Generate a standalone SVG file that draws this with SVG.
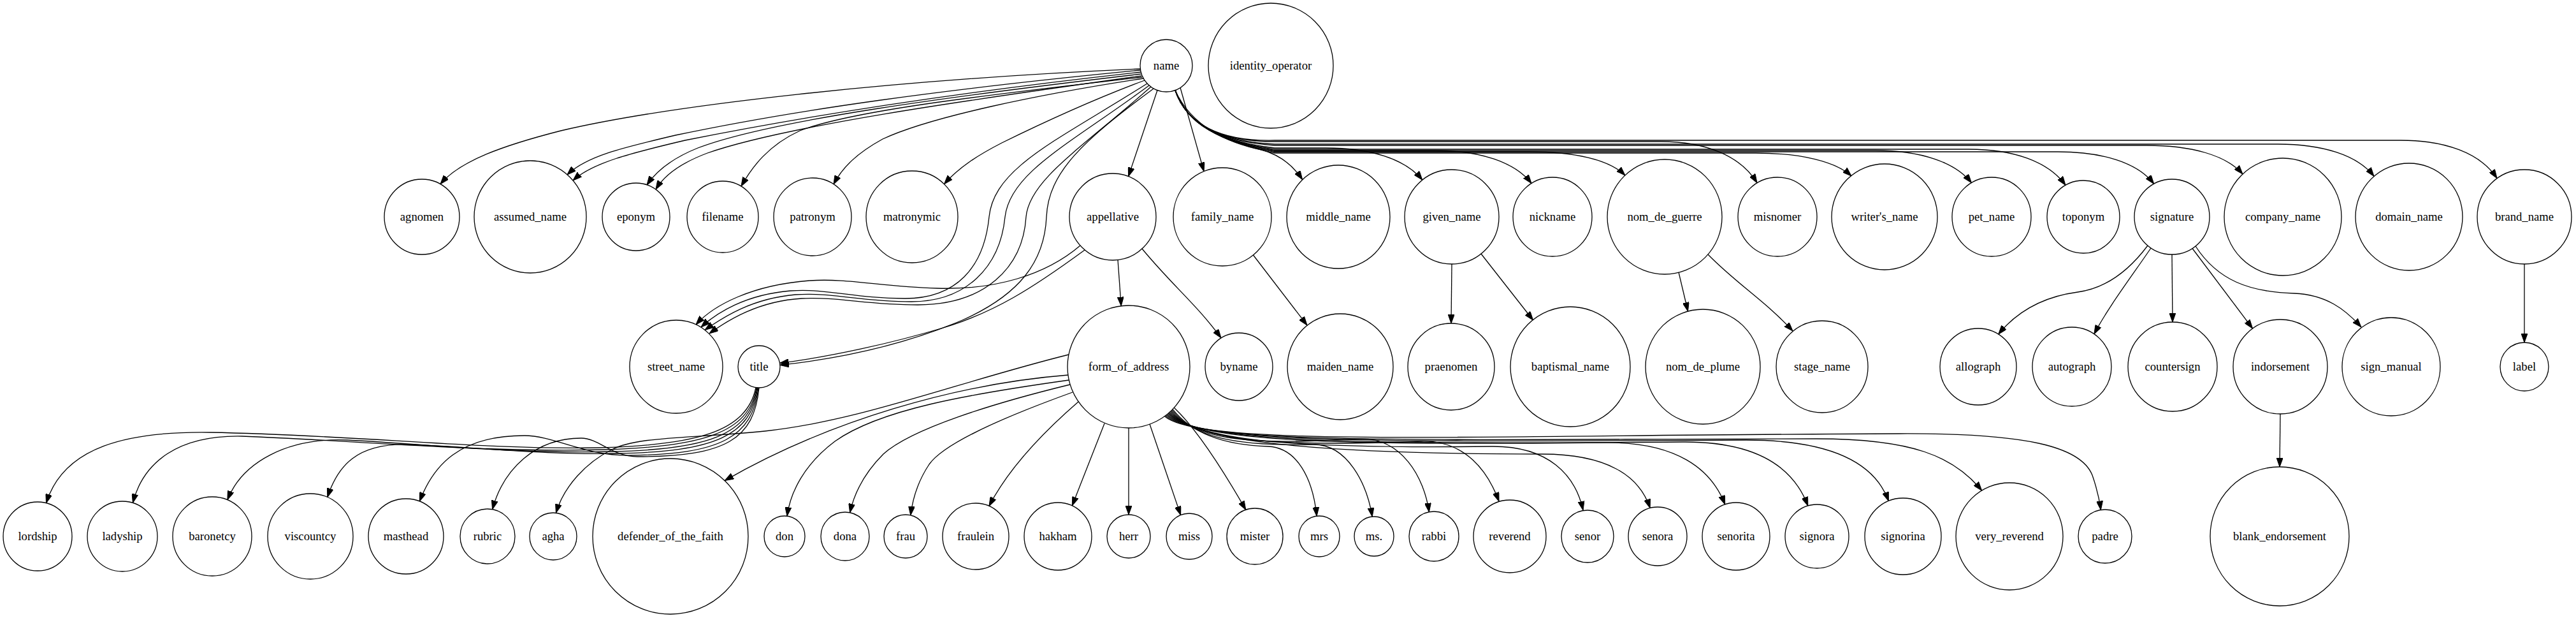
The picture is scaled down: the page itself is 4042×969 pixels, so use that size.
<svg xmlns="http://www.w3.org/2000/svg" width="4042" height="969" viewBox="0 0 4042 969">
<style>
.n circle{fill:none;stroke:#000;stroke-width:1.3}
.n text{font-family:"Liberation Serif","Times New Roman",serif;font-size:18.67px;text-anchor:middle;fill:#000}
#edges path{fill:none;stroke:#000;stroke-width:1.3;marker-end:url(#ah)}
</style>
<defs>
<marker id="ah" markerUnits="userSpaceOnUse" markerWidth="14" markerHeight="10" refX="14" refY="5" orient="auto" viewBox="0 0 14 10">
<path d="M0,0 L14,5 L0,10 z" fill="#000" stroke="#000" stroke-width="1"/>
</marker>
</defs>
<rect width="4042" height="969" fill="#fff"/>
<g id="edges">
<path d="M1789.5,108 C1400,125 1050,165 880,205 C790,228 722,252 691,288.5"/>
<path d="M1789.5,110 C1480,140 1250,172 1060,212 C975,232 920,245 890,274"/>
<path d="M1790,113 C1490,146 1265,182 1075,220 C990,240 930,255 899,283"/>
<path d="M1790.5,116 C1500,150 1210,188 1095,232 C1055,248 1030,268 1015,290"/>
<path d="M1791,119 C1510,158 1230,198 1110,240 C1070,255 1042,275 1029,297"/>
<path d="M1792,121 C1560,148 1340,172 1255,205 C1205,228 1180,262 1163,292"/>
<path d="M1794,123 C1630,148 1460,183 1385,218 C1345,240 1322,262 1308,289"/>
<path d="M1796,126 C1710,158 1625,198 1572,224 C1535,243 1505,262 1481.5,288.6"/>
<path d="M1816,141.5 L1770.6,276.6"/>
<path d="M1852,137.5 L1889,268.6"/>
<path d="M1800,131 C1660,220 1560,262 1552,340 C1544,420 1500,468 1420,468 C1340,468 1300,452 1240,456 C1170,462 1125,490 1100,513"/>
<path d="M1803,134 C1680,225 1585,270 1577,340 C1569,420 1515,473 1430,473 C1350,473 1305,458 1248,462 C1180,468 1135,497 1106,517.5"/>
<path d="M1806,136 C1700,230 1615,282 1610,340 C1605,420 1545,478 1440,478 C1360,478 1315,465 1258,468 C1190,472 1142,502 1113,523"/>
<path d="M1810,139 C1700,220 1645,270 1642,340 C1639,410 1600,462 1510,502 C1420,540 1320,562 1224,572.4"/>
<path d="M1695,385 C1640,432 1560,455 1470,452 C1380,449 1330,436 1270,440 C1180,447 1120,478 1092,509"/>
<path d="M1702,392 C1620,452 1560,490 1480,514 C1400,538 1300,560 1223.5,569.4"/>
<path d="M1754,407.5 L1759.2,479.7"/>
<path d="M1792,390 C1840,448 1878,478 1916,529.9"/>
<path d="M1966.5,400 L2051,510"/>
<path d="M2278,414 L2277,507"/>
<path d="M2324,398 L2405.6,502"/>
<path d="M2634,427 L2648.5,488"/>
<path d="M2680,399 C2725,445 2770,472 2813,519"/>
<path d="M3370,385 C3340,425 3305,452 3260,458 C3200,466 3162,492 3135.7,524"/>
<path d="M3375,389 C3340,440 3308,482 3285.9,523.7"/>
<path d="M3408,399 L3409,505"/>
<path d="M3440,389.5 L3534.5,515"/>
<path d="M3445,386 C3480,440 3530,458 3600,460 C3650,462 3680,485 3705,513"/>
<path d="M3961,414 L3961,537"/>
<path d="M3578,649 L3577,732"/>
<path d="M1844,141.5 C1870,200 1930,225 1980,235 C2005,242 2028,258 2043.6,281.6"/>
<path d="M1844,141.5 C1862,195 1915,222 2000,232 L2080,232 C2150,232 2205,249 2231.8,282.2"/>
<path d="M1844,141.5 C1862,195 1915,222 2000,236 L2252,236 C2322,236 2377,254 2403,287.5"/>
<path d="M1844,141.5 C1862,195 1915,222 2000,238 L2400,238 C2470,238 2525,250 2549.9,275"/>
<path d="M1844,141.5 C1862,195 1915,222 2000,222 L2606,222 C2676,222 2731,244 2757,286.7"/>
<path d="M1844,141.5 C1862,195 1915,222 2000,240 L2755,240 C2825,240 2880,253 2905,276"/>
<path d="M1844,141.5 C1862,195 1915,222 2000,236 L2943,236 C3013,236 3068,254 3093.4,286.7"/>
<path d="M1844,141.5 C1862,195 1915,222 2000,234 L3089,234 C3159,234 3214,253 3241,290.4"/>
<path d="M1844,141.5 C1862,195 1915,222 2000,238 L3229,238 C3299,238 3354,255 3379.7,288.2"/>
<path d="M1844,141.5 C1862,195 1915,222 2000,228 L3368,228 C3438,228 3493,243 3519,273"/>
<path d="M1844,141.5 C1862,195 1915,222 2000,226 L3574,226 C3644,226 3699,243 3725,276.4"/>
<path d="M1844,141.5 C1862,195 1915,222 2000,220 L3767,220 C3837,220 3892,240 3918,279.6"/>
<path d="M1771,671 L1771,807"/>
<path d="M1804,665 L1852.6,807.6"/>
<path d="M1842.3,639.2 C1875,670 1915,730 1954.8,799.4"/>
<path d="M1840,641.7 C1870,680 1920,698 1990,700 C2035,702 2060,750 2066.1,809.2"/>
<path d="M1838.9,642.9 C1870,683 1930,700 2060,697 C2115,696 2145,760 2153.2,810.1"/>
<path d="M1837.7,644.1 C1870,686 1950,700 2130,688 C2200,684 2235,750 2242.4,802.8"/>
<path d="M1836.5,645.2 C1872,688 1980,702 2230,692 C2300,690 2335,740 2352,786"/>
<path d="M1835.2,646.3 C1874,690 2020,704 2340,700 C2430,699 2472,745 2484,800"/>
<path d="M1834,647.5 C1876,692 2060,712 2420,712 C2520,712 2572,745 2589.1,796.6"/>
<path d="M1832.7,648.5 C1878,694 2100,698 2520,694 C2630,693 2685,735 2706.7,790.9"/>
<path d="M1831.4,649.6 C1880,696 2150,696 2640,693 C2760,692 2815,735 2836.8,793"/>
<path d="M1830.1,650.6 C1882,698 2200,692 2740,690 C2890,690 2945,735 2963.4,785.5"/>
<path d="M1828.8,651.7 C1884,700 2250,688 2850,688 C3000,688 3065,715 3109.6,769"/>
<path d="M1827.4,652.7 C1886,702 2300,682 2980,680 C3180,679 3265,700 3283,745 C3290,765 3294,782 3296.4,799.6"/>
<path d="M1733,664 L1682.3,792.9"/>
<path d="M1692,630 C1640,675 1585,730 1552,793.4"/>
<path d="M1683,615 C1600,645 1485,690 1458,728 C1440,755 1432,782 1428.8,807.9"/>
<path d="M1679,603 C1560,632 1430,672 1386,712 C1356,742 1340,775 1333.6,803.8"/>
<path d="M1677,596 C1520,618 1380,642 1310,692 C1262,728 1240,772 1235,809.2"/>
<path d="M1676,588 C1500,602 1300,660 1137.2,753.6"/>
<path d="M1677,556 C1500,600 1350,660 1200,676 C1080,688 1000,684 960,705 C920,725 885,762 872.4,804.2"/>
<path d="M1186,607.5 C1172,678 1090,698 940,702 C760,706 560,682 330,678 C200,676 100,700 72.5,788.7"/>
<path d="M1187,608 C1175,680 1100,700 950,705 C750,710 550,690 380,684 C280,682 225,724 208.4,788.4"/>
<path d="M1188,608 C1177,682 1110,705 960,708 C800,712 650,695 545,690 C450,686 380,725 356.9,783.7"/>
<path d="M1189,608 C1179,684 1120,708 970,711 C850,714 740,700 640,697 C560,695 530,730 513.8,779.5"/>
<path d="M1190,608 C1181,686 1130,712 990,714 C920,716 870,683 823,683 C720,683 680,730 658.3,786"/>
<path d="M1191,608 C1183,688 1140,716 1000,716 C960,716 940,687 912,687 C840,687 790,735 772.6,798.7"/>
</g>
<g id="node-name" class="n"><circle cx="1830" cy="103" r="41"/><text x="1830" y="109">name</text></g>
<g id="node-identity_operator" class="n"><circle cx="1994" cy="103" r="98"/><text x="1994" y="109">identity_operator</text></g>
<g id="node-agnomen" class="n"><circle cx="662" cy="340" r="59"/><text x="662" y="346">agnomen</text></g>
<g id="node-assumed_name" class="n"><circle cx="832" cy="340" r="88"/><text x="832" y="346">assumed_name</text></g>
<g id="node-eponym" class="n"><circle cx="998" cy="340" r="53"/><text x="998" y="346">eponym</text></g>
<g id="node-filename" class="n"><circle cx="1134" cy="340" r="56"/><text x="1134" y="346">filename</text></g>
<g id="node-patronym" class="n"><circle cx="1275" cy="340" r="61"/><text x="1275" y="346">patronym</text></g>
<g id="node-matronymic" class="n"><circle cx="1431" cy="340" r="72"/><text x="1431" y="346">matronymic</text></g>
<g id="node-appellative" class="n"><circle cx="1746" cy="340" r="68"/><text x="1746" y="346">appellative</text></g>
<g id="node-family_name" class="n"><circle cx="1918" cy="340" r="77"/><text x="1918" y="346">family_name</text></g>
<g id="node-middle_name" class="n"><circle cx="2100" cy="340" r="81"/><text x="2100" y="346">middle_name</text></g>
<g id="node-given_name" class="n"><circle cx="2278" cy="340" r="74"/><text x="2278" y="346">given_name</text></g>
<g id="node-nickname" class="n"><circle cx="2436" cy="340" r="62"/><text x="2436" y="346">nickname</text></g>
<g id="node-nom_de_guerre" class="n"><circle cx="2612" cy="340" r="90"/><text x="2612" y="346">nom_de_guerre</text></g>
<g id="node-misnomer" class="n"><circle cx="2789" cy="340" r="62"/><text x="2789" y="346">misnomer</text></g>
<g id="node-writers_name" class="n"><circle cx="2957" cy="340" r="83"/><text x="2957" y="346">writer's_name</text></g>
<g id="node-pet_name" class="n"><circle cx="3125" cy="340" r="62"/><text x="3125" y="346">pet_name</text></g>
<g id="node-toponym" class="n"><circle cx="3269" cy="340" r="57"/><text x="3269" y="346">toponym</text></g>
<g id="node-signature" class="n"><circle cx="3408" cy="340" r="59"/><text x="3408" y="346">signature</text></g>
<g id="node-company_name" class="n"><circle cx="3582" cy="340" r="92"/><text x="3582" y="346">company_name</text></g>
<g id="node-domain_name" class="n"><circle cx="3780" cy="340" r="84"/><text x="3780" y="346">domain_name</text></g>
<g id="node-brand_name" class="n"><circle cx="3961" cy="340" r="74"/><text x="3961" y="346">brand_name</text></g>
<g id="node-street_name" class="n"><circle cx="1061" cy="575" r="73"/><text x="1061" y="581">street_name</text></g>
<g id="node-title" class="n"><circle cx="1191" cy="575" r="33"/><text x="1191" y="581">title</text></g>
<g id="node-form_of_address" class="n"><circle cx="1771" cy="575" r="96"/><text x="1771" y="581">form_of_address</text></g>
<g id="node-byname" class="n"><circle cx="1944" cy="575" r="53"/><text x="1944" y="581">byname</text></g>
<g id="node-maiden_name" class="n"><circle cx="2103" cy="575" r="83"/><text x="2103" y="581">maiden_name</text></g>
<g id="node-praenomen" class="n"><circle cx="2277" cy="575" r="68"/><text x="2277" y="581">praenomen</text></g>
<g id="node-baptismal_name" class="n"><circle cx="2464" cy="575" r="94"/><text x="2464" y="581">baptismal_name</text></g>
<g id="node-nom_de_plume" class="n"><circle cx="2672" cy="575" r="90"/><text x="2672" y="581">nom_de_plume</text></g>
<g id="node-stage_name" class="n"><circle cx="2859" cy="575" r="72"/><text x="2859" y="581">stage_name</text></g>
<g id="node-allograph" class="n"><circle cx="3104" cy="575" r="60"/><text x="3104" y="581">allograph</text></g>
<g id="node-autograph" class="n"><circle cx="3251" cy="575" r="62"/><text x="3251" y="581">autograph</text></g>
<g id="node-countersign" class="n"><circle cx="3409" cy="575" r="70"/><text x="3409" y="581">countersign</text></g>
<g id="node-indorsement" class="n"><circle cx="3578" cy="575" r="74"/><text x="3578" y="581">indorsement</text></g>
<g id="node-sign_manual" class="n"><circle cx="3752" cy="575" r="77"/><text x="3752" y="581">sign_manual</text></g>
<g id="node-label" class="n"><circle cx="3961" cy="575" r="38"/><text x="3961" y="581">label</text></g>
<g id="node-lordship" class="n"><circle cx="59" cy="841" r="54"/><text x="59" y="847">lordship</text></g>
<g id="node-ladyship" class="n"><circle cx="192" cy="841" r="55"/><text x="192" y="847">ladyship</text></g>
<g id="node-baronetcy" class="n"><circle cx="333" cy="841" r="62"/><text x="333" y="847">baronetcy</text></g>
<g id="node-viscountcy" class="n"><circle cx="487" cy="841" r="67"/><text x="487" y="847">viscountcy</text></g>
<g id="node-masthead" class="n"><circle cx="637" cy="841" r="59"/><text x="637" y="847">masthead</text></g>
<g id="node-rubric" class="n"><circle cx="765" cy="841" r="43"/><text x="765" y="847">rubric</text></g>
<g id="node-agha" class="n"><circle cx="868" cy="841" r="37"/><text x="868" y="847">agha</text></g>
<g id="node-defender_of_the_faith" class="n"><circle cx="1052" cy="841" r="122"/><text x="1052" y="847">defender_of_the_faith</text></g>
<g id="node-don" class="n"><circle cx="1231" cy="841" r="32"/><text x="1231" y="847">don</text></g>
<g id="node-dona" class="n"><circle cx="1326" cy="841" r="38"/><text x="1326" y="847">dona</text></g>
<g id="node-frau" class="n"><circle cx="1421" cy="841" r="34"/><text x="1421" y="847">frau</text></g>
<g id="node-fraulein" class="n"><circle cx="1531" cy="841" r="52"/><text x="1531" y="847">fraulein</text></g>
<g id="node-hakham" class="n"><circle cx="1660" cy="841" r="53"/><text x="1660" y="847">hakham</text></g>
<g id="node-herr" class="n"><circle cx="1771" cy="841" r="34"/><text x="1771" y="847">herr</text></g>
<g id="node-miss" class="n"><circle cx="1866" cy="841" r="36"/><text x="1866" y="847">miss</text></g>
<g id="node-mister" class="n"><circle cx="1969" cy="841" r="44"/><text x="1969" y="847">mister</text></g>
<g id="node-mrs" class="n"><circle cx="2070" cy="841" r="32"/><text x="2070" y="847">mrs</text></g>
<g id="node-ms" class="n"><circle cx="2156" cy="841" r="31"/><text x="2156" y="847">ms.</text></g>
<g id="node-rabbi" class="n"><circle cx="2250" cy="841" r="39"/><text x="2250" y="847">rabbi</text></g>
<g id="node-reverend" class="n"><circle cx="2369" cy="841" r="57"/><text x="2369" y="847">reverend</text></g>
<g id="node-senor" class="n"><circle cx="2491" cy="841" r="41"/><text x="2491" y="847">senor</text></g>
<g id="node-senora" class="n"><circle cx="2601" cy="841" r="46"/><text x="2601" y="847">senora</text></g>
<g id="node-senorita" class="n"><circle cx="2724" cy="841" r="53"/><text x="2724" y="847">senorita</text></g>
<g id="node-signora" class="n"><circle cx="2851" cy="841" r="50"/><text x="2851" y="847">signora</text></g>
<g id="node-signorina" class="n"><circle cx="2986" cy="841" r="60"/><text x="2986" y="847">signorina</text></g>
<g id="node-very_reverend" class="n"><circle cx="3153" cy="841" r="84"/><text x="3153" y="847">very_reverend</text></g>
<g id="node-padre" class="n"><circle cx="3303" cy="841" r="42"/><text x="3303" y="847">padre</text></g>
<g id="node-blank_endorsement" class="n"><circle cx="3577" cy="841" r="109"/><text x="3577" y="847">blank_endorsement</text></g>
</svg>
